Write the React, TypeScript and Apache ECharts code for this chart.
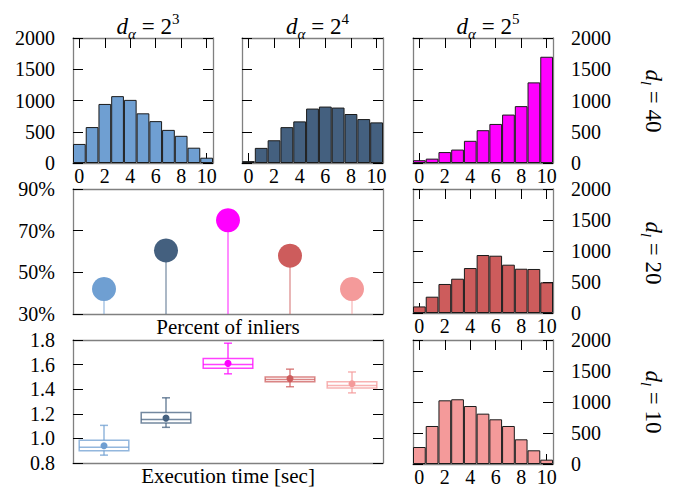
import React, { useEffect, useRef } from 'react';
import * as echarts from 'echarts';

// ---------- data ----------
const binLabels = ['0', '1', '2', '3', '4', '5', '6', '7', '8', '9', '10'];
const histA3L40 = [305, 575, 945, 1070, 1010, 795, 670, 530, 435, 245, 85];
const histA4L40 = [30, 242, 364, 574, 666, 871, 903, 887, 784, 703, 650];
const histA5L40 = [45, 70, 175, 215, 355, 525, 625, 775, 910, 1290, 1700];
const histA5L20 = [106, 263, 468, 553, 725, 935, 924, 779, 714, 710, 494];
const histA5L10 = [274, 613, 1027, 1044, 935, 812, 721, 613, 398, 221, 70];

const alphaExps = ['3', '4', '5'];
const levelLabels = ['40', '20', '10'];

const configNames = ['a3-l40', 'a4-l40', 'a5-l40', 'a5-l20', 'a5-l10'];
const inlierPct = [42, 60.5, 75, 58, 42];
const pctTicks = [30, 50, 70, 90];

const boxLow = [0.864, 1.09, 1.525, 1.42, 1.37];
const boxQ1 = [0.9, 1.125, 1.57, 1.46, 1.41];
const boxMed = [0.928, 1.154, 1.6, 1.478, 1.43];
const boxQ3 = [0.984, 1.21, 1.65, 1.5, 1.46];
const boxHigh = [1.106, 1.33, 1.774, 1.563, 1.54];
const boxMean = [0.94, 1.165, 1.61, 1.486, 1.445];

const colors = ['#6f9fd2', '#44607f', '#ff00ff', '#cd5c5c', '#f49a9a'];

// ---------- styles ----------
const FONT = "'Liberation Serif', 'Times New Roman', serif";
const FRAME = '#808080';
const FS = 20;

const labelStyle = { fontSize: FS, fontFamily: FONT, color: '#000' };
const tickStyle = { show: true, inside: true, length: 10, lineStyle: { color: '#000', width: 1 } };
const lineStyle = { show: true, onZero: false, lineStyle: { color: FRAME, width: 1.3 } };

function histXAxes(g: number) {
  const base = {
    type: 'category',
    gridIndex: g,
    data: binLabels,
    boundaryGap: true,
    axisLine: lineStyle,
    axisTick: { ...tickStyle, alignWithLabel: true, interval: 1 },
    splitLine: { show: false },
  };
  return [
    { ...base, position: 'bottom', axisLabel: { ...labelStyle, show: true, interval: 1, margin: 3 } },
    { ...base, position: 'top', axisLabel: { show: false } },
  ];
}

function histYAxes(g: number, side: string) {
  const base = {
    type: 'value',
    gridIndex: g,
    min: 0,
    max: 2000,
    interval: 500,
    splitLine: { show: false },
    axisLine: lineStyle,
    axisTick: tickStyle,
  };
  const lbl = { ...labelStyle, margin: 18, formatter: (v: number) => String(v) };
  return [
    { ...base, position: 'left', axisLabel: side === 'left' ? lbl : { show: false } },
    { ...base, position: 'right', axisLabel: side === 'right' ? lbl : { show: false } },
  ];
}

function catXAxes(g: number, name: string) {
  const base = {
    type: 'category',
    gridIndex: g,
    data: configNames,
    boundaryGap: true,
    axisLine: lineStyle,
    axisTick: { show: false },
    axisLabel: { show: false },
    splitLine: { show: false },
  };
  return [
    {
      ...base,
      position: 'bottom',
      name,
      nameLocation: 'middle',
      nameGap: 2,
      nameTextStyle: { ...labelStyle, fontSize: 21, verticalAlign: 'top' },
    },
    { ...base, position: 'top' },
  ];
}

const titleRich = {
  d: { fontFamily: FONT, fontStyle: 'italic', fontWeight: 'normal', fontSize: 23, lineHeight: 30, color: '#000' },
  s: { fontFamily: FONT, fontStyle: 'italic', fontWeight: 'normal', fontSize: 15, lineHeight: 15, verticalAlign: 'bottom', color: '#000' },
  n: { fontFamily: FONT, fontWeight: 'normal', fontSize: 23, lineHeight: 30, color: '#000' },
  p: { fontFamily: FONT, fontWeight: 'normal', fontSize: 15, lineHeight: 15, verticalAlign: 'top', color: '#000' },
};

export default function App() {
  const ref = useRef<HTMLDivElement>(null);

  useEffect(() => {
    if (!ref.current) return;
    const chart = echarts.init(ref.current, null, { renderer: 'svg' });

    const grids = [
      { left: 73, top: 38, width: 140, height: 125 },
      { left: 242, top: 38, width: 141, height: 125 },
      { left: 413, top: 38, width: 140, height: 125 },
      { left: 73, top: 189, width: 310, height: 125 },
      { left: 413, top: 189, width: 140, height: 124 },
      { left: 73, top: 340, width: 310, height: 125 },
      { left: 413, top: 340, width: 140, height: 125 },
    ];

    const xAxis = [
      ...histXAxes(0),
      ...histXAxes(1),
      ...histXAxes(2),
      ...catXAxes(3, 'Percent of inliers'),
      ...histXAxes(4),
      ...catXAxes(5, 'Execution time [sec]'),
      ...histXAxes(6),
    ];

    const pctAxisBase = {
      type: 'value',
      gridIndex: 3,
      min: pctTicks[0],
      max: pctTicks[pctTicks.length - 1],
      splitLine: { show: false },
      axisLine: lineStyle,
      axisTick: { ...tickStyle, customValues: pctTicks },
    };
    const timeAxisBase = {
      type: 'value',
      gridIndex: 5,
      min: 0.8,
      max: 1.8,
      interval: 0.2,
      splitLine: { show: false },
      axisLine: lineStyle,
      axisTick: tickStyle,
    };

    const yAxis = [
      ...histYAxes(0, 'left'),
      ...histYAxes(1, 'none'),
      ...histYAxes(2, 'right'),
      {
        ...pctAxisBase,
        position: 'left',
        axisLabel: { ...labelStyle, margin: 18, customValues: pctTicks, formatter: '{value}%' },
      },
      { ...pctAxisBase, position: 'right', axisLabel: { show: false } },
      ...histYAxes(4, 'right'),
      {
        ...timeAxisBase,
        position: 'left',
        axisLabel: { ...labelStyle, margin: 18, formatter: (v: number) => v.toFixed(1) },
      },
      { ...timeAxisBase, position: 'right', axisLabel: { show: false } },
      ...histYAxes(6, 'right'),
    ];

    const histSeries = (g: number, data: number[], color: string) => ({
      type: 'bar',
      xAxisIndex: 2 * g,
      yAxisIndex: 2 * g,
      data,
      barCategoryGap: '0%',
      itemStyle: { color, borderColor: '#1a1a1a', borderWidth: 1 },
      silent: true,
    });

    const boxData = boxLow.map((_, i) => [i, boxLow[i], boxQ1[i], boxMed[i], boxQ3[i], boxHigh[i], boxMean[i]]);

    const series: any[] = [
      histSeries(0, histA3L40, colors[0]),
      histSeries(1, histA4L40, colors[1]),
      histSeries(2, histA5L40, colors[2]),
      histSeries(4, histA5L20, colors[3]),
      histSeries(6, histA5L10, colors[4]),
      {
        type: 'bar',
        xAxisIndex: 6,
        yAxisIndex: 6,
        barWidth: 1.5,
        data: inlierPct.map((v, i) => ({ value: v, itemStyle: { color: colors[i], opacity: 0.6 } })),
        silent: true,
        z: 2,
      },
      {
        type: 'scatter',
        xAxisIndex: 6,
        yAxisIndex: 6,
        symbol: 'circle',
        symbolSize: 24,
        data: inlierPct.map((v, i) => ({ value: v, itemStyle: { color: colors[i], opacity: 1 } })),
        silent: true,
        z: 3,
      },
      {
        type: 'custom',
        xAxisIndex: 10,
        yAxisIndex: 10,
        data: boxData,
        encode: { x: 0, y: [1, 2, 3, 4, 5, 6] },
        silent: true,
        renderItem: (params: any, api: any) => {
          const idx = api.value(0);
          const c = colors[params.dataIndex];
          const w = api.size([1, 0])[0] * 0.8;
          const cx = api.coord([idx, api.value(1)])[0];
          const y = (k: number) => api.coord([idx, api.value(k)])[1];
          const yLow = y(1), yQ1 = y(2), yMed = y(3), yQ3 = y(4), yHigh = y(5), yMean = y(6);
          const st = { stroke: c, lineWidth: 1.5, opacity: 0.75, fill: 'none' };
          const cap = 4;
          return {
            type: 'group',
            children: [
              { type: 'rect', shape: { x: cx - w / 2, y: yQ3, width: w, height: yQ1 - yQ3 }, style: st },
              { type: 'line', shape: { x1: cx - w / 2, y1: yMed, x2: cx + w / 2, y2: yMed }, style: st },
              { type: 'line', shape: { x1: cx, y1: yQ3, x2: cx, y2: yHigh }, style: st },
              { type: 'line', shape: { x1: cx, y1: yQ1, x2: cx, y2: yLow }, style: st },
              { type: 'line', shape: { x1: cx - cap, y1: yHigh, x2: cx + cap, y2: yHigh }, style: st },
              { type: 'line', shape: { x1: cx - cap, y1: yLow, x2: cx + cap, y2: yLow }, style: st },
              { type: 'circle', shape: { cx, cy: yMean, r: 3.5 }, style: { fill: c, stroke: 'none' } },
            ],
          };
        },
      },
    ];

    const titleCenters = [143, 312.5, 483];
    const title = alphaExps.map((e, i) => ({
      text: `{d|d}{s|α}{n| = 2}{p|${e}}`,
      left: titleCenters[i],
      top: 6,
      textAlign: 'center',
      textStyle: { fontWeight: 'normal', rich: titleRich },
    }));

    const rowCenters = [101, 253, 402];
    const graphic = levelLabels.map((l, i) => ({
      type: 'text',
      x: 653,
      y: rowCenters[i],
      rotation: -Math.PI / 2,
      style: {
        text: `{d|d}{s|l}{n| = ${l}}`,
        rich: titleRich,
        align: 'center',
        verticalAlign: 'middle',
        fill: '#000',
      },
    }));

    chart.setOption({
      animation: false,
      backgroundColor: '#fff',
      title,
      grid: grids,
      xAxis,
      yAxis,
      series,
      graphic,
    });

    return () => chart.dispose();
  }, []);

  return (
    <div
      ref={ref}
      style={{ position: 'fixed', left: 0, top: 0, width: 673, height: 487 }}
    />
  );
}
